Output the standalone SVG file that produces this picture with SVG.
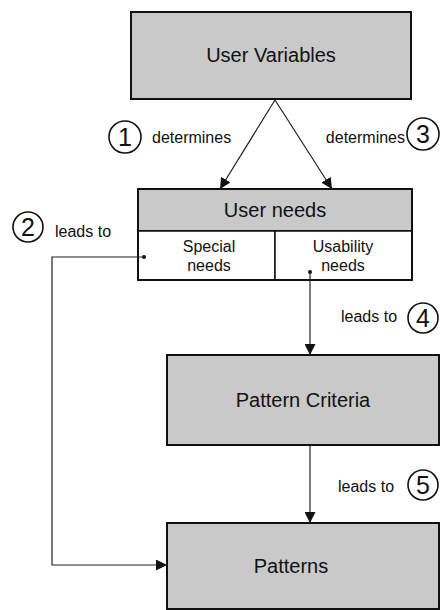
<svg xmlns="http://www.w3.org/2000/svg" width="442" height="610" viewBox="0 0 442 610">
<defs>
<marker id="arr" viewBox="0 0 11 11" refX="11" refY="5.5" markerWidth="11" markerHeight="11" markerUnits="userSpaceOnUse" orient="auto">
<path d="M0,0 L11,5.5 L0,11 z" fill="#111"/>
</marker>
</defs>
<style>
.box{fill:#c9c9c9;stroke:#111;stroke-width:2}
.cell{fill:#fff;stroke:#111;stroke-width:1.5}
.t{font-family:"Liberation Sans",Arial,sans-serif;fill:#111;text-anchor:middle}
.big{font-size:20px}
.mid{font-size:16px}
.lab{font-family:"Liberation Sans",Arial,sans-serif;fill:#111;font-size:16px}
.num{font-family:"Liberation Sans",Arial,sans-serif;fill:#111;font-size:25px;text-anchor:middle}
.circ{fill:#fff;stroke:#111;stroke-width:1.6}
.con{fill:none;stroke:#222;stroke-width:1.2}
</style>
<rect width="442" height="610" fill="#fff"/>
<g id="user-variables">
<rect class="box" x="131" y="12" width="280" height="87"/>
<text class="t big" x="271" y="62">User Variables</text>
</g>
<g id="user-needs">
<rect class="box" x="138" y="189" width="274" height="42"/>
<text class="t big" x="275" y="217">User needs</text>
<rect class="cell" x="138" y="231" width="137" height="49"/>
<rect class="cell" x="275" y="231" width="137" height="49"/>
<text class="t mid" x="209" y="252">Special</text>
<text class="t mid" x="209" y="271">needs</text>
<text class="t mid" x="343" y="252">Usability</text>
<text class="t mid" x="343" y="271">needs</text>
<rect x="138" y="189" width="274" height="91" fill="none" stroke="#111" stroke-width="2"/>
</g>
<g id="pattern-criteria">
<rect class="box" x="167" y="355" width="272" height="90"/>
<text class="t big" x="303" y="407">Pattern Criteria</text>
</g>
<g id="patterns">
<rect class="box" x="167" y="523" width="272" height="86"/>
<text class="t big" x="291" y="573">Patterns</text>
</g>
<g id="connectors">
<path class="con" d="M275,100 L220,189" marker-end="url(#arr)"/>
<path class="con" d="M275,100 L332,189" marker-end="url(#arr)"/>
<circle cx="144" cy="257" r="2" fill="#111"/>
<path class="con" d="M144,257 H52 V565 H167" marker-end="url(#arr)"/>
<circle cx="310" cy="272" r="2" fill="#111"/>
<path class="con" d="M310,272 V355" marker-end="url(#arr)"/>
<path class="con" d="M310,445 V523" marker-end="url(#arr)"/>
</g>
<g id="labels">
<circle class="circ" cx="125" cy="137" r="16"/>
<text class="num" x="125" y="146">1</text>
<text class="lab" x="152" y="143">determines</text>
<circle class="circ" cx="423" cy="134" r="16"/>
<text class="num" x="423" y="143">3</text>
<text class="lab" x="405" y="143" text-anchor="end">determines</text>
<circle class="circ" cx="28" cy="227" r="15"/>
<text class="num" x="28" y="236">2</text>
<text class="lab" x="55" y="237">leads to</text>
<circle class="circ" cx="423" cy="318" r="15"/>
<text class="num" x="423" y="327">4</text>
<text class="lab" x="341" y="322">leads to</text>
<circle class="circ" cx="423" cy="485" r="15"/>
<text class="num" x="423" y="494">5</text>
<text class="lab" x="338" y="492">leads to</text>
</g>
</svg>
